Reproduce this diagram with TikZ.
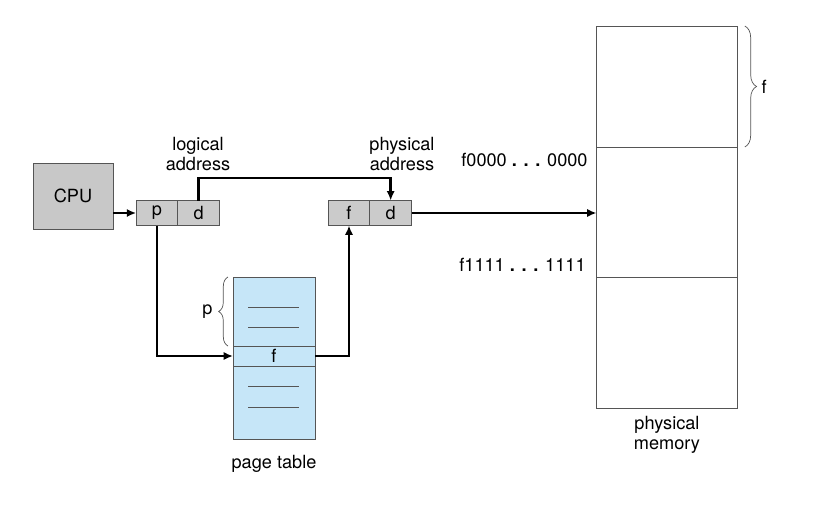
\documentclass[tikz,border=0pt]{standalone}
\usepackage{fontspec}
\setmainfont{TeX Gyre Heros}
\usepackage{xcolor}
\usepackage{tikz}
\usetikzlibrary{arrows.meta,positioning,calc,decorations.pathreplacing}
\definecolor{cpugray}{HTML}{C8C8C8}
\definecolor{cellgray}{HTML}{CBCBCB}
\definecolor{ptblue}{HTML}{C6E6F8}
\definecolor{edge}{HTML}{555555}
\tikzset{
  cpubox/.style={
    rectangle, draw=edge, fill=cpugray, semithick,
    minimum width=2.4cm, minimum height=1.98cm,
    font=\fontsize{15.5}{17}\selectfont, outer sep=0pt
  },
  addrcell/.style={
    rectangle, draw=edge, fill=cellgray, semithick,
    minimum width=1.25cm, minimum height=0.75cm,
    font=\fontsize{15.5}{17}\selectfont, inner sep=0pt, outer sep=0pt
  },
  ptrow/.style={
    rectangle, draw=edge, fill=ptblue, semithick,
    minimum width=2.46cm, minimum height=#1,
    font=\fontsize{15.5}{17}\selectfont, inner sep=0pt, outer sep=0pt
  },
  ptrow/.default=0.6cm,
  memblock/.style={
    rectangle, draw=edge, semithick,
    minimum width=4.23cm, minimum height=#1,
    inner sep=0pt, outer sep=0pt
  },
  lbl/.style={font=\fontsize{15.5}{17}\selectfont, text=black, align=center, inner sep=1pt},
  ptr/.style={-{Latex[length=8pt,width=7pt]}, line width=2pt, color=black},
  ptline/.style={edge, semithick},
  bracket/.style={decorate, decoration={brace, amplitude=#1}, edge, semithick},
  bracket/.default=9pt,
}

\begin{document}
\begin{tikzpicture}[x=0.03cm, y=-0.03cm]
\useasboundingbox (0,0) rectangle (829,532);

\node[cpubox] (cpu) at (73,196) {CPU};
\node[addrcell] (p) at (157,213) {p};
\node[addrcell, right=0pt of p] (d) {d};
\node[addrcell] (pf) at (349,213) {f};
\node[addrcell, right=0pt of pf] (pd) {d};

\node[ptrow=2.07cm] (ptA) at (274,311.5) {};
\node[ptrow=0.6cm, below=0pt of ptA] (ptF) {f};
\node[ptrow=2.19cm, below=0pt of ptF] (ptB) {};
\foreach \yy in {307,327,386,407}
  \draw[ptline] (248,\yy) -- (299,\yy);

\node[memblock=3.63cm] (mem0) at (667,86.5) {};
\node[memblock=3.9cm, below=0pt of mem0] (mem1) {};
\node[memblock=3.93cm, below=0pt of mem1] (mem2) {};

\node[lbl] (logl) at (198,154) {logical\\address};
\node[lbl] (physl) at (402,154) {physical\\address};
\node[lbl, anchor=east] (lo) at (589,160) {f0000 \textbf{. . .} 0000};
\node[lbl, anchor=east] (hi) at (587,265) {f1111 \textbf{. . .} 1111};
\node[lbl, below=0.22cm of mem2] (meml) {physical\\memory};
\node[lbl, below=0.45cm of ptB] (ptl) {page table};

\draw[ptr] (cpu.east |- p.west) -- (p.west);
\draw[ptr] (d.north) -- ++(0,-22.5) -| (pd.north);
\draw[ptr] (p.south) |- (ptF.west);
\draw[ptr] (ptF.east) -| (pf.south);
\draw[ptr] (pd.east) -- (pd.east -| mem1.west);

\draw[bracket=10pt] ([xshift=0.22cm]mem0.north east) -- ([xshift=0.22cm]mem0.south east)
  node[lbl, midway, right=13pt] (fl) {f};
\draw[bracket=8pt] ([xshift=-0.15cm]ptA.south west) -- ([xshift=-0.15cm]ptA.north west)
  node[lbl, midway, left=12pt] (pl) {p};
\end{tikzpicture}
\end{document}
